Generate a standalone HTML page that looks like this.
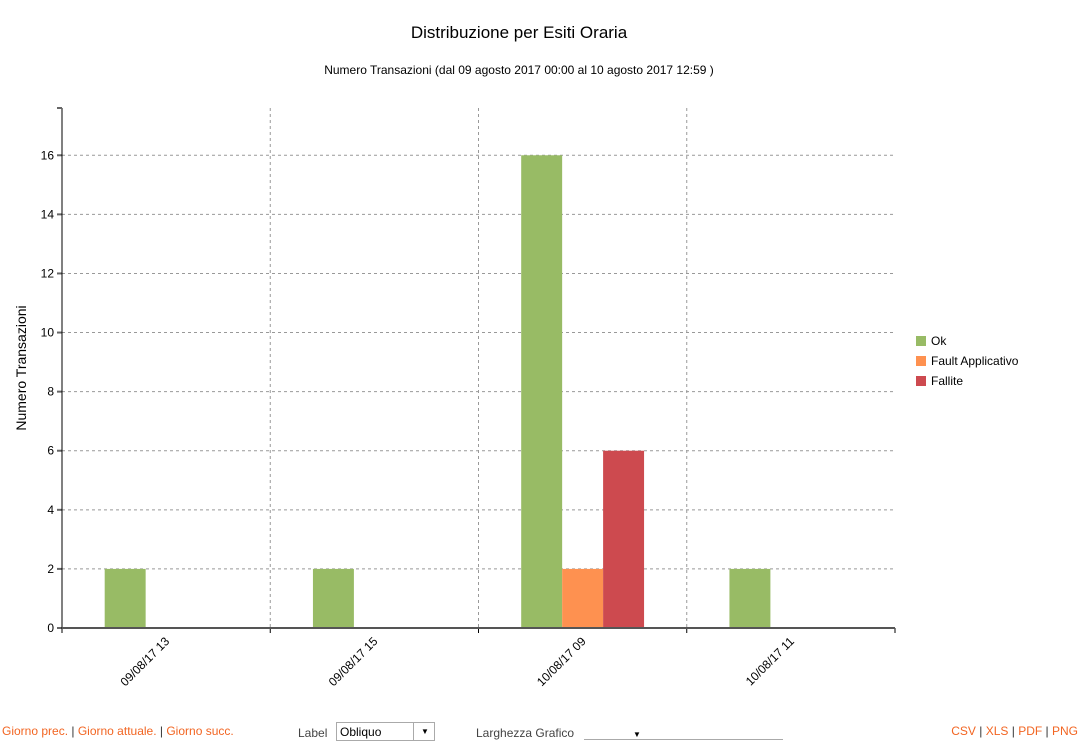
<!DOCTYPE html>
<html><head><meta charset="utf-8"><style>
body{margin:0;width:1083px;height:754px;background:#fff;font-family:"Liberation Sans",sans-serif;overflow:hidden;position:relative}
.t{position:absolute;font-size:12px}
a{color:#f26522;text-decoration:none}
</style></head><body>
<svg id="c" width="1083" height="754" style="position:absolute;left:0;top:0">
<text x="519" y="38" text-anchor="middle" font-size="17" fill="#000">Distribuzione per Esiti Oraria</text>
<text x="519" y="74" text-anchor="middle" font-size="12" fill="#000">Numero Transazioni (dal 09 agosto 2017 00:00 al 10 agosto 2017 12:59 )</text>
<text transform="translate(26,368) rotate(-90)" text-anchor="middle" font-size="14">Numero Transazioni</text>
<g id="grid"></g><g id="bars"></g><g id="axes"></g>
<g>
<rect x="916" y="336" width="10" height="10" fill="#98bb65"/><text x="931" y="345" font-size="12">Ok</text>
<rect x="916" y="356" width="10" height="10" fill="#fe9150"/><text x="931" y="365" font-size="12">Fault Applicativo</text>
<rect x="916" y="376" width="10" height="10" fill="#cd4a4f"/><text x="931" y="385" font-size="12">Fallite</text>
</g>
</svg>
<div class="t" style="left:2px;top:724px;color:#333"><a href="#">Giorno prec.</a> | <a href="#">Giorno attuale.</a> | <a href="#">Giorno succ.</a></div>
<div class="t" style="left:298px;top:726px;color:#444">Label</div>
<div style="position:absolute;left:336px;top:722px;width:99px;height:19px;border:1px solid #aaa;font-size:12px;box-sizing:border-box"><span style="position:absolute;left:3px;top:2px">Obliquo</span><span style="position:absolute;left:76px;top:0;width:22px;height:17px;border-left:1px solid #aaa;font-size:8px;text-align:center;line-height:17px">▼</span></div>
<div class="t" style="left:476px;top:726px;color:#444">Larghezza Grafico</div>
<div style="position:absolute;left:584px;top:726px;width:199px;height:13px;border-bottom:1px solid #aaa;font-size:8px"><span style="position:absolute;left:49px;top:4px">▼</span></div>
<div class="t" style="right:5px;top:724px;color:#333"><a href="#">CSV</a> | <a href="#">XLS</a> | <a href="#">PDF</a> | <a href="#">PNG</a></div>
<script>
const categories=["09/08/17 13","09/08/17 15","10/08/17 09","10/08/17 11"];
const seriesNames=["Ok","Fault Applicativo","Fallite"];
const okValues=[2,2,16,2];
const faultValues=[0,0,2,0];
const failValues=[0,0,6,0];
const yTicks=[0,2,4,6,8,10,12,14,16];
const colors=["#98bb65","#fe9150","#cd4a4f"];
const NS="http://www.w3.org/2000/svg";
const X0=62,X1=895,Y0=628,YMAX=17.6,YTOP=108;
const bw=(X1-X0)/categories.length;
const y=v=>Y0-v*(Y0-YTOP)/YMAX;
function mk(tag,at,parent){const e=document.createElementNS(NS,tag);for(const k in at)e.setAttribute(k,at[k]);document.getElementById(parent).appendChild(e);return e;}
yTicks.forEach(t=>{
 if(t>0){const l=mk('line',{x1:X0,x2:X1,y1:y(t),y2:y(t),stroke:'#999','stroke-dasharray':'3,3'},'grid');
 
 }
 const tk=mk('line',{x1:X0-5,x2:X0,y1:y(t),y2:y(t),stroke:'#666','stroke-width':2},'axes');
 
 
 const tx=mk('text',{x:X0-8,y:y(t)+4,'text-anchor':'end','font-size':12},'axes');tx.textContent=t;
 
 
});
for(let i=1;i<categories.length;i++){const l=mk('line',{x1:X0+i*bw,x2:X0+i*bw,y1:YTOP,y2:Y0,stroke:'#999','stroke-dasharray':'3,3'},'grid');
 
 }
const series=[okValues,faultValues,failValues];
const pad=bw*0.205,w=(bw-2*pad)/3;
categories.forEach((c,i)=>{
 series.forEach((s,j)=>{if(s[i]>0){const r=mk('rect',{x:X0+i*bw+pad+j*w,y:y(s[i]),width:w,height:Y0-y(s[i]),fill:colors[j]},'bars');
  
  }});
 const cx=X0+(i+0.5)*bw;
 const tx=mk('text',{transform:`translate(${cx+4},${Y0+14}) rotate(-45)`,'text-anchor':'end','font-size':12},'axes');tx.textContent=c;
 
 
});
for(let i=0;i<=categories.length;i++){const tk=mk('line',{x1:X0+i*bw,x2:X0+i*bw,y1:Y0,y2:Y0+5,stroke:'#000'},'axes');
 
 }
const ya=mk('line',{x1:X0,x2:X0,y1:YTOP,y2:Y0,stroke:'#000'},'axes');


const yt=mk('line',{x1:X0-5,x2:X0,y1:YTOP,y2:YTOP,stroke:'#666','stroke-width':2},'axes');


const xa=mk('line',{x1:X0,x2:X1,y1:Y0,y2:Y0,stroke:'#555','stroke-width':2},'axes');


</script>
</body></html>
